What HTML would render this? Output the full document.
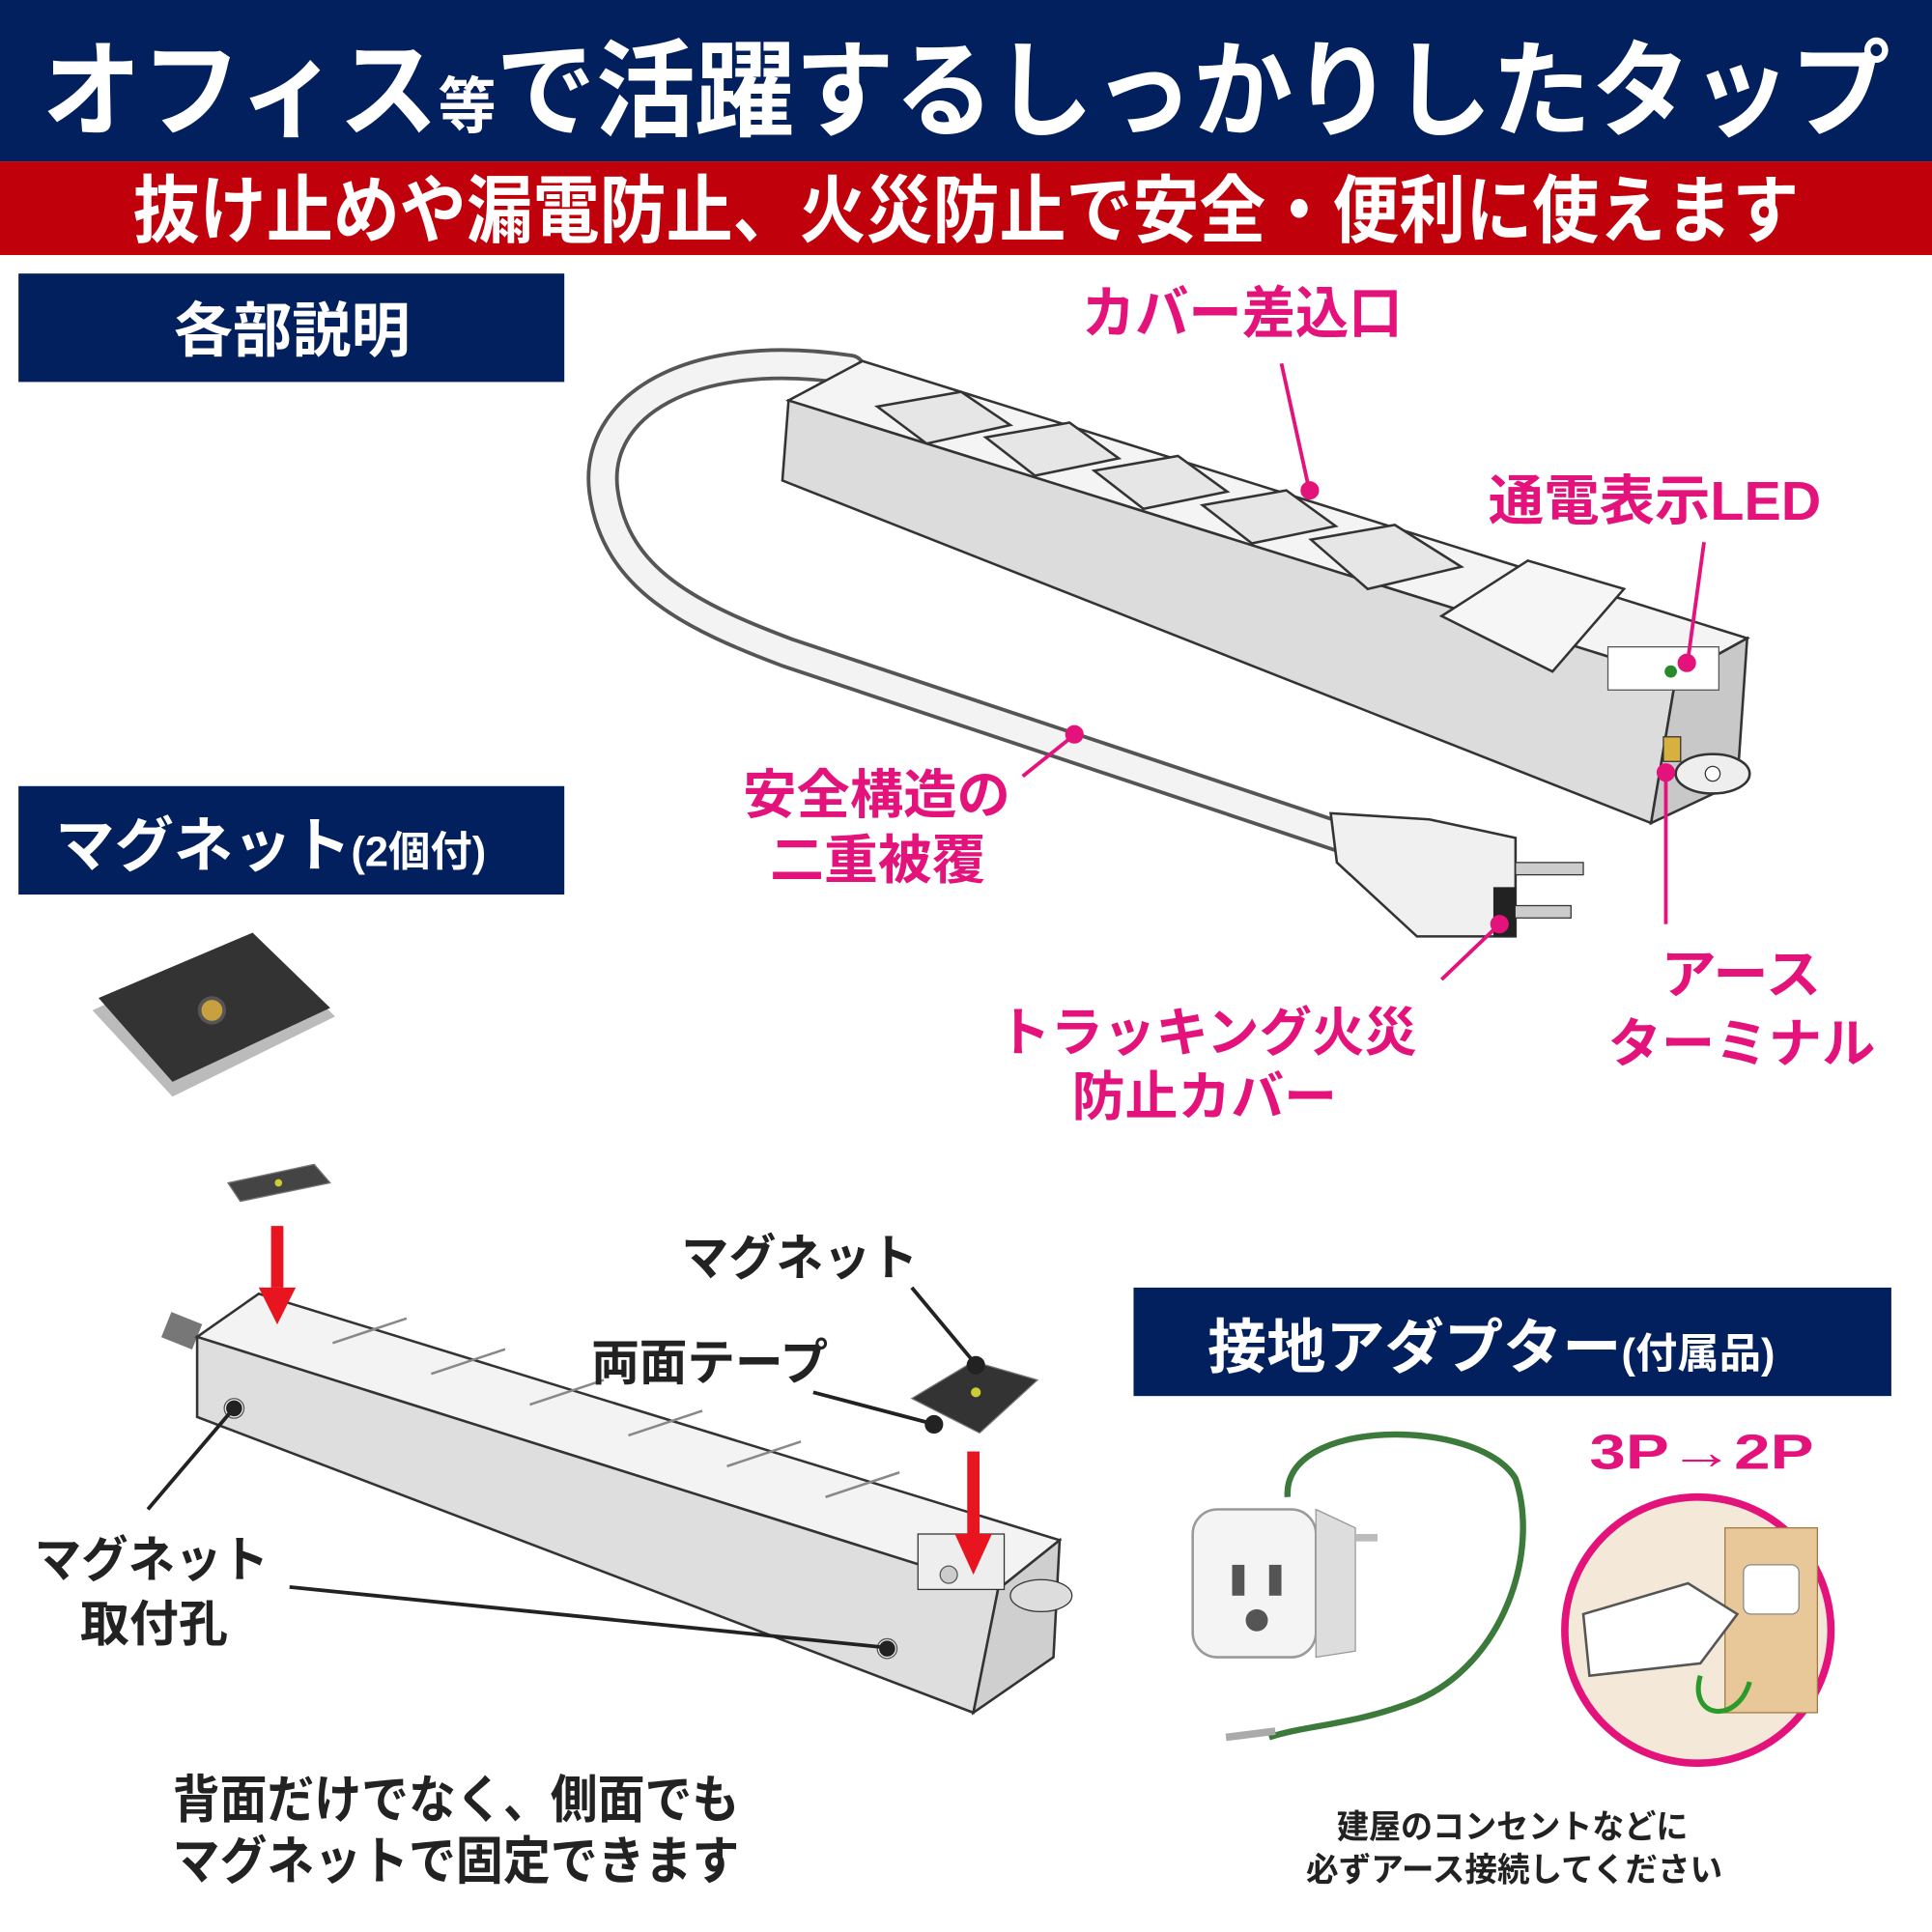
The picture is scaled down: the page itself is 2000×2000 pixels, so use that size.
<!DOCTYPE html>
<html><head><meta charset="utf-8"><style>
html,body{margin:0;padding:0;background:#fff;}
svg{display:block;}
text{font-family:"Liberation Sans","Noto Sans CJK JP",sans-serif;font-weight:bold;}
</style></head><body>
<svg width="2000" height="2000" viewBox="0 0 1568 1568" xmlns="http://www.w3.org/2000/svg">
<rect x="0" y="0" width="1568" height="131" fill="#03205e"/>
<rect x="0" y="131" width="1568" height="76" fill="#c0000b"/>
<text x="784" y="104" text-anchor="middle" font-size="86" fill="#fff" textLength="1500" lengthAdjust="spacingAndGlyphs">オフィス<tspan font-size="50">等</tspan>で活躍するしっかりしたタップ</text>
<text x="784" y="192" text-anchor="middle" font-size="60" fill="#fff" textLength="1352" lengthAdjust="spacingAndGlyphs">抜け止めや漏電防止、火災防止で安全・便利に使えます</text>

<rect x="15" y="222" width="443" height="88" fill="#03205e"/>
<text x="237" y="285" text-anchor="middle" font-size="48" fill="#fff">各部説明</text>
<rect x="15" y="638" width="443" height="88" fill="#03205e"/>
<text x="45" y="703" font-size="48" fill="#fff">マグネット<tspan font-size="34">(2個付)</tspan></text>
<rect x="920" y="1045" width="615" height="88" fill="#03205e"/>
<text x="980" y="1110" font-size="48" fill="#fff">接地アダプター<tspan font-size="34">(付属品)</tspan></text>

<!-- cord top -->
<path d="M690 300 C560 280 480 330 490 400 C500 470 560 500 640 530 L1090 680" fill="none" stroke="#555" stroke-width="26" stroke-linecap="round"/>
<path d="M690 300 C560 280 480 330 490 400 C500 470 560 500 640 530 L1090 680" fill="none" stroke="#f3f3f3" stroke-width="20" stroke-linecap="round"/>
<!-- strip top -->
<polygon points="640,325 700,293 1418,518 1360,550" fill="#f4f4f4" stroke="#333" stroke-width="2"/>
<polygon points="640,325 1360,550 1340,668 635,390" fill="#dcdcdc" stroke="#333" stroke-width="2"/>
<polygon points="1360,550 1418,518 1410,635 1340,668" fill="#c8c8c8" stroke="#333" stroke-width="2"/>
<g fill="#e6e6e6" stroke="#333" stroke-width="2">
<polygon points="712,330 780,318 820,345 752,360"/>
<polygon points="800,355 868,343 908,372 840,386"/>
<polygon points="888,382 956,370 996,399 928,413"/>
<polygon points="976,410 1044,398 1084,427 1016,441"/>
<polygon points="1064,438 1132,426 1186,460 1110,478"/>
<polygon points="1170,500 1240,455 1318,478 1260,545" fill="#f6f6f6"/>
</g>
<rect x="1305" y="525" width="90" height="35" fill="#fff" stroke="#555"/>
<circle cx="1356" cy="545" r="5" fill="#2a8a2a"/>
<ellipse cx="1390" cy="628" rx="30" ry="16" fill="#eee" stroke="#333" stroke-width="2"/>
<circle cx="1390" cy="628" r="6" fill="#fff" stroke="#333"/>
<rect x="1350" y="598" width="14" height="20" fill="#d8b040" stroke="#333"/>
<!-- plug -->
<path d="M1080 660 L1160 665 L1230 680 L1230 760 L1150 760 L1085 700 Z" fill="#f0f0f0" stroke="#333" stroke-width="2"/>
<rect x="1230" y="700" width="55" height="10" fill="#ccc" stroke="#333"/>
<rect x="1225" y="735" width="50" height="10" fill="#ccc" stroke="#333"/>
<rect x="1212" y="720" width="18" height="40" fill="#222"/>

<!-- pink labels -->
<g fill="#e4137b">
<text x="878" y="270" font-size="46" textLength="260" lengthAdjust="spacingAndGlyphs">カバー差込口</text>
<text x="1208" y="422" font-size="44" textLength="270" lengthAdjust="spacingAndGlyphs">通電表示LED</text>
<text x="603" y="660" font-size="43" textLength="217" lengthAdjust="spacingAndGlyphs">安全構造の</text>
<text x="625" y="713" font-size="43" textLength="175" lengthAdjust="spacingAndGlyphs">二重被覆</text>
<text x="810" y="853" font-size="43" textLength="340" lengthAdjust="spacingAndGlyphs">トラッキング火災</text>
<text x="870" y="905" font-size="43" textLength="215" lengthAdjust="spacingAndGlyphs">防止カバー</text>
<text x="1348" y="806" font-size="43" textLength="130" lengthAdjust="spacingAndGlyphs">アース</text>
<text x="1305" y="862" font-size="43" textLength="217" lengthAdjust="spacingAndGlyphs">ターミナル</text>
<text x="1290" y="1192" font-size="40" textLength="182" lengthAdjust="spacingAndGlyphs">3P→2P</text>
</g>
<g stroke="#e4137b" stroke-width="3" fill="#e4137b">
<line x1="1040" y1="295" x2="1062" y2="395"/><circle cx="1063" cy="398" r="6"/>
<line x1="1383" y1="440" x2="1370" y2="535"/><circle cx="1369" cy="538" r="6"/>
<line x1="830" y1="630" x2="870" y2="598"/><circle cx="872" cy="596" r="6"/>
<line x1="1170" y1="795" x2="1215" y2="752"/><circle cx="1217" cy="750" r="6"/>
<line x1="1352" y1="750" x2="1352" y2="630"/><circle cx="1352" cy="627" r="6"/>
</g>

<!-- magnet photo -->
<polygon points="75,820 205,760 272,825 140,890" fill="#bbb"/>
<polygon points="80,810 205,757 268,818 140,878" fill="#333"/>
<circle cx="172" cy="820" r="10" fill="#c9a040" stroke="#555" stroke-width="3"/>
<!-- small magnet -->
<polygon points="185,960 255,945 268,960 195,975" fill="#444" stroke="#777"/>
<circle cx="226" cy="960" r="3" fill="#cc3"/>

<!-- bottom strip -->
<path d="M160 1085 L135 1075" stroke="#777" stroke-width="22"/>
<polygon points="160,1085 210,1050 860,1250 810,1290" fill="#f3f3f3" stroke="#333" stroke-width="2"/>
<polygon points="160,1085 810,1290 790,1390 160,1150" fill="#dedede" stroke="#333" stroke-width="2"/>
<polygon points="810,1290 860,1250 855,1345 790,1390" fill="#cfcfcf" stroke="#333" stroke-width="2"/>
<g stroke="#888" stroke-width="2" fill="none">
<line x1="270" y1="1090" x2="330" y2="1070"/><line x1="350" y1="1115" x2="410" y2="1095"/>
<line x1="430" y1="1140" x2="490" y2="1120"/><line x1="510" y1="1165" x2="570" y2="1145"/>
<line x1="590" y1="1190" x2="650" y2="1170"/><line x1="670" y1="1215" x2="730" y2="1195"/>
</g>
<rect x="745" y="1245" width="70" height="45" fill="#eee" stroke="#333"/>
<circle cx="770" cy="1278" r="7" fill="#ccc" stroke="#555"/>
<circle cx="190" cy="1143" r="8" fill="#eee" stroke="#555"/>
<circle cx="720" cy="1338" r="8" fill="#eee" stroke="#555"/>
<ellipse cx="845" cy="1295" rx="25" ry="13" fill="#ddd" stroke="#333"/>
<!-- arrows -->
<g fill="#e8141f">
<rect x="220" y="995" width="10" height="50"/><polygon points="210,1045 240,1045 225,1075"/>
<rect x="785" y="1178" width="10" height="70"/><polygon points="775,1245 805,1245 790,1278"/>
</g>
<!-- small magnet on right -->
<polygon points="740,1135 790,1105 842,1120 795,1163" fill="#333" stroke="#777"/>
<circle cx="792" cy="1130" r="4" fill="#cc3"/>

<g fill="#222">
<text x="553" y="1035" font-size="40" font-weight="normal" textLength="192" lengthAdjust="spacingAndGlyphs">マグネット</text>
<text x="480" y="1120" font-size="40" font-weight="normal" textLength="192" lengthAdjust="spacingAndGlyphs">両面テープ</text>
<text x="28" y="1280" font-size="40" font-weight="normal" textLength="190" lengthAdjust="spacingAndGlyphs">マグネット</text>
<text x="65" y="1332" font-size="40" font-weight="normal">取付孔</text>
<text x="140" y="1475" font-size="42" font-weight="normal" textLength="460" lengthAdjust="spacingAndGlyphs">背面だけでなく、側面でも</text>
<text x="140" y="1525" font-size="42" font-weight="normal" textLength="460" lengthAdjust="spacingAndGlyphs">マグネットで固定できます</text>
<text x="1085" y="1492" font-size="27" font-weight="normal" textLength="285" lengthAdjust="spacingAndGlyphs">建屋のコンセントなどに</text>
<text x="1060" y="1527" font-size="27" font-weight="normal" textLength="338" lengthAdjust="spacingAndGlyphs">必ずアース接続してください</text>
</g>
<g stroke="#222" stroke-width="3" fill="#222">
<line x1="740" y1="1045" x2="790" y2="1105"/><circle cx="792" cy="1108" r="6"/>
<line x1="660" y1="1130" x2="755" y2="1155"/><circle cx="758" cy="1156" r="6"/>
<line x1="120" y1="1225" x2="188" y2="1145"/><circle cx="190" cy="1143" r="5"/>
<line x1="235" y1="1288" x2="718" y2="1337"/><circle cx="720" cy="1338" r="5"/>
</g>

<!-- adapter -->
<path d="M1045 1215 C1040 1150 1200 1150 1230 1200 C1250 1260 1220 1350 1150 1380 C1100 1400 1060 1400 1030 1410" fill="none" stroke="#3b7a3b" stroke-width="5"/>
<rect x="968" y="1225" width="100" height="120" rx="20" fill="#f4f4f4" stroke="#999" stroke-width="2"/>
<polygon points="1068,1225 1100,1240 1100,1340 1068,1345" fill="#ddd" stroke="#999"/>
<rect x="1100" y="1245" width="18" height="6" fill="#bbb"/>
<rect x="1000" y="1270" width="10" height="25" fill="#555"/><rect x="1030" y="1270" width="10" height="25" fill="#555"/>
<circle cx="1020" cy="1315" r="9" fill="#555"/>
<path d="M995 1410 L1035 1405" stroke="#aaa" stroke-width="6"/>
<circle cx="1378" cy="1323" r="108" fill="#f4e8d8" stroke="#e4137b" stroke-width="6"/>
<rect x="1400" y="1240" width="75" height="150" fill="#e8c898" stroke="#a07a40"/>
<rect x="1415" y="1270" width="45" height="40" rx="6" fill="#fff" stroke="#888"/>
<path d="M1285 1310 L1370 1285 L1410 1310 L1380 1350 L1290 1360 Z" fill="#fff" stroke="#555" stroke-width="2"/>
<path d="M1380 1360 C1370 1395 1410 1400 1420 1365" fill="none" stroke="#2a9a2a" stroke-width="4"/>
</svg>
</body></html>
